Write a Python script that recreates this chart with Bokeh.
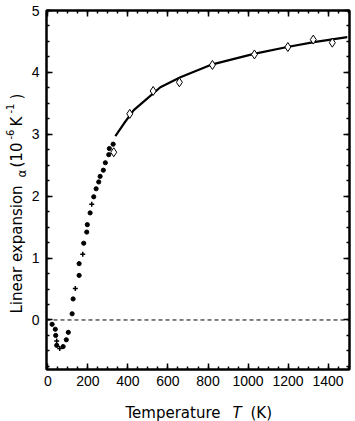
import math
from bokeh.plotting import figure
from bokeh.layouts import row, column
from bokeh.models import (Range1d, LinearAxis, SingleIntervalTicker, Span, Label,
                          CustomJSTickFormatter)
from bokeh.embed import file_html
from bokeh.resources import INLINE

# ---- data ----
T_dots = [21, 37, 39, 44, 76, 92, 102, 121, 126, 156, 156, 179, 194, 197, 211,
          229, 241, 254, 261, 277, 287, 304, 307, 326]
a_dots = [-0.07, -0.15, -0.25, -0.41, -0.43, -0.32, -0.20, 0.10, 0.34, 0.72, 0.91,
          1.24, 1.42, 1.54, 1.73, 1.99, 2.12, 2.23, 2.32, 2.42, 2.54, 2.67, 2.77, 2.84]
T_plus = [44, 59, 137, 174, 219]
a_plus = [-0.34, -0.46, 0.51, 1.06, 1.87]
T_diam = [329, 409, 526, 657, 822, 1032, 1199, 1326, 1421]
a_diam = [2.71, 3.33, 3.70, 3.84, 4.12, 4.29, 4.41, 4.53, 4.48]
T_fit = [337, 379, 429, 490, 562, 662, 822, 1029, 1196, 1329, 1496]
a_fit = [2.97, 3.17, 3.39, 3.56, 3.76, 3.92, 4.13, 4.30, 4.41, 4.49, 4.57]

FONT = "DejaVu Sans"
TICKFONT = "Liberation Sans"

YLAB_W = 28

p = figure(width=355 - YLAB_W, height=394, output_backend="svg",
           toolbar_location=None,
           x_range=Range1d(-7, 1507), y_range=Range1d(-0.8, 5.0),
           min_border_left=46 - YLAB_W, min_border_right=6, min_border_top=10,
           min_border_bottom=25, background_fill_color="white")
p.xgrid.visible = False
p.ygrid.visible = False
p.outline_line_color = "black"
p.outline_line_width = 2

p.xaxis.ticker = SingleIntervalTicker(interval=200, num_minor_ticks=4)
p.yaxis.ticker = SingleIntervalTicker(interval=1, num_minor_ticks=4)

def style(ax, labels=True):
    ax.axis_line_color = "black"
    ax.axis_line_width = 2
    ax.major_tick_in = 6
    ax.major_tick_out = 0
    ax.minor_tick_in = 3
    ax.minor_tick_out = 0
    ax.major_tick_line_width = 1.5
    ax.minor_tick_line_width = 1.5
    ax.major_tick_line_color = "black"
    ax.minor_tick_line_color = "black"
    if labels:
        ax.major_label_text_font = TICKFONT
        ax.major_label_text_font_size = "14px"
        ax.major_label_text_color = "black"
    else:
        ax.formatter = CustomJSTickFormatter(code="return ''")
        ax.major_label_standoff = 0

for ax in p.xaxis:
    style(ax)
    ax.major_label_standoff = 6
for ax in p.yaxis:
    style(ax)
    ax.major_label_standoff = 7

top = LinearAxis(ticker=SingleIntervalTicker(interval=200, num_minor_ticks=4))
style(top, labels=False)
p.add_layout(top, "above")
right = LinearAxis(ticker=SingleIntervalTicker(interval=1, num_minor_ticks=4))
style(right, labels=False)
p.add_layout(right, "right")

# zero line
p.add_layout(Span(location=0, dimension="width", line_color="black",
                  line_width=1, line_dash="4 3"))

# data
p.line(T_fit, a_fit, line_color="black", line_width=2.2)
p.scatter(T_dots, a_dots, marker="circle", size=4.2, fill_color="black",
          line_color="black")
p.scatter(T_plus, a_plus, marker="cross", size=5, line_color="black",
          line_width=1.5)
p.scatter(T_diam, a_diam, marker="diamond", size=9, fill_color="white",
          line_color="black", line_width=1)


def blank(w, h):
    f = figure(width=w, height=h, output_backend="svg", toolbar_location=None,
               x_axis_type=None, y_axis_type=None, min_border=0,
               x_range=Range1d(0, 1), y_range=Range1d(0, 1))
    f.min_border_left = f.min_border_right = 0
    f.min_border_top = f.min_border_bottom = 0
    f.outline_line_color = None
    f.xgrid.visible = False
    f.ygrid.visible = False
    return f


def lab(f, text, x, y, size, angle=0.0, style="normal"):
    f.add_layout(Label(x=x, y=y, x_units="screen", y_units="screen", text=text,
                       text_font=FONT, text_font_size=size, text_color="black",
                       text_font_style=style, angle=angle,
                       text_align="left", text_baseline="alphabetic"))

# x label figure (below main plot; its frame aligns with the main frame)
fx = blank(355 - YLAB_W, 27)
lab(fx, "Temperature", 79, 9, "15px")
lab(fx, "T", 186, 9, "15px", style="italic")
lab(fx, "(K)", 204, 9, "15px")

# y label figure (left of main plot)
fy = blank(YLAB_W, 421)
A = math.pi / 2
lab(fy, "Linear expansion", 16.5, 108, "15px", angle=A)
lab(fy, "\u03b1", 21, 244, "12px", angle=A)
lab(fy, "(10", 16.5, 254, "15px", angle=A)
lab(fy, "-6", 9, 282, "10px", angle=A)
lab(fy, "K", 16.5, 295, "15px", angle=A)
lab(fy, "-1", 9, 308, "10px", angle=A)
lab(fy, ")", 16.5, 322, "15px", angle=A)

layout = row(fy, column(p, fx, spacing=0), spacing=0)

open("out.html", "w").write(file_html(layout, INLINE))
